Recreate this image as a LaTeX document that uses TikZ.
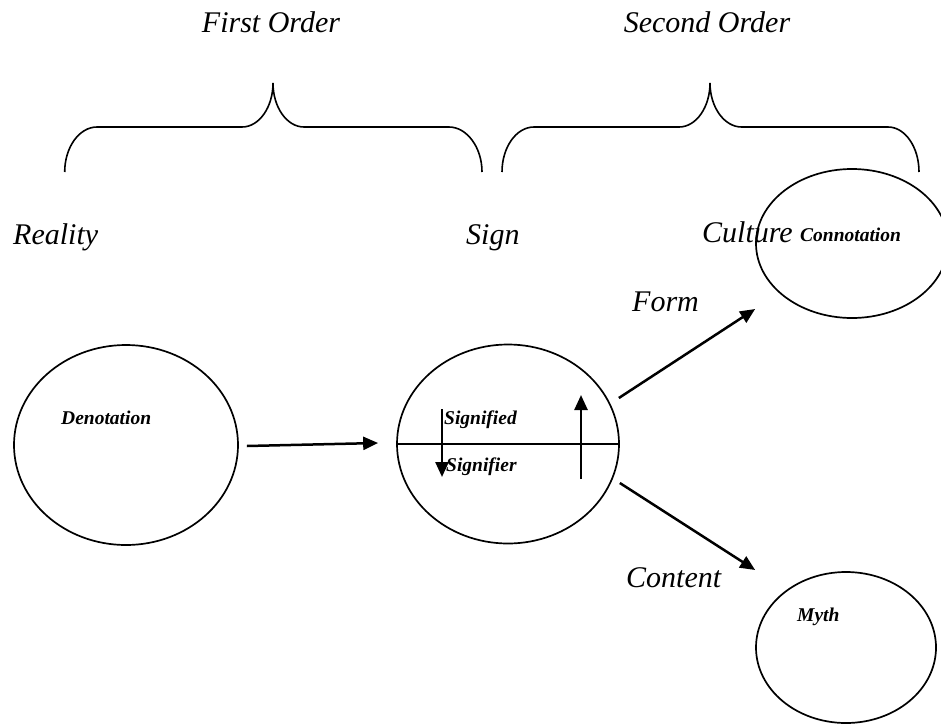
\documentclass[tikz,border=0pt]{standalone}
\usepackage{fontspec}
\setmainfont{Liberation Serif}
\usetikzlibrary{shapes.geometric,arrows.meta,calc}
\tikzset{
  big/.style={font=\fontsize{30}{36}\selectfont\itshape, inner sep=0pt, anchor=base west},
  bigc/.style={font=\fontsize{30}{36}\selectfont\itshape, inner sep=0pt, anchor=base},
  small/.style={font=\fontsize{19.5}{23}\selectfont\bfseries\itshape, inner sep=0pt, anchor=base west},
  oval/.style={ellipse, draw, line width=1.7pt, inner sep=0pt},
  arr/.style={line width=2.5pt, -{Triangle[length=15pt,width=13pt]}},
  brc/.style={line width=1.6pt}
}
\begin{document}
\begin{tikzpicture}[x=1pt,y=-1pt]
\useasboundingbox (0,0) rectangle (941,725);
% titles
\node[bigc] (fo) at (271,33) {First Order};
\node[bigc] (so) at (707,33) {Second Order};
% braces
\draw[brc] (64.7,172) .. controls (64.7,147.2) and (79.3,127) .. (97,127) -- (242,127)
  .. controls (259.1,127) and (273,107.3) .. (273,83)
  .. controls (273,107.3) and (286.9,127) .. (304,127) -- (449,127)
  .. controls (466.7,127) and (482,147.2) .. (482,172);
\draw[brc] (502,172) .. controls (502,147.2) and (516.3,127) .. (534,127) -- (679,127)
  .. controls (696.1,127) and (710,107.3) .. (710,83)
  .. controls (710,107.3) and (724.4,127) .. (741.5,127) -- (888,127)
  .. controls (905.1,127) and (919,147.2) .. (919,172);
% ellipses
\node[oval, minimum width=224pt, minimum height=200pt] (den) at (126,445) {};
\node[oval, minimum width=222pt, minimum height=199pt] (sign) at (508,444) {};
\node[oval, minimum width=192pt, minimum height=149pt] (conn) at (852,243.5) {};
\node[oval, minimum width=180pt, minimum height=151pt] (myth) at (846,647.5) {};
% column labels
\node[big] (real) at (13,244) {Reality};
\node[big] (signl) at (466,244) {Sign};
\node[big] (cult) at (702,242) {Culture};
\node[small] (connl) at (800,241) {Connotation};
\node[big] (form) at (632,311) {Form};
\node[big] (cont) at (626,587) {Content};
% inner labels
\node[small] (denl) at (61,424) {Denotation};
\node[small] (sfd) at (444,424) {Signified};
\node[small] (sfr) at (446,471) {Signifier};
\node[small] (mythl) at (797,621) {Myth};
% divider in sign
\draw[line width=1.5pt] (sign.west) -- (sign.east);
% arrows
\draw[arr] ($(den.east)+(8,1)$) -- ($(sign.west)+(-18,-1)$);
\draw[arr] ($(sign.center)+(-66,-35)$) -- ($(sign.center)+(-66,33)$);
\draw[arr] ($(sign.center)+(73,35)$) -- ($(sign.center)+(73,-49)$);
\draw[arr] ($(sign.east)+(-1,-46)$) -- ($(conn.west)+(0,65.5)$);
\draw[arr] ($(sign.east)+(0,39)$) -- ($(myth.west)+(0,-77.5)$);
\end{tikzpicture}
\end{document}
